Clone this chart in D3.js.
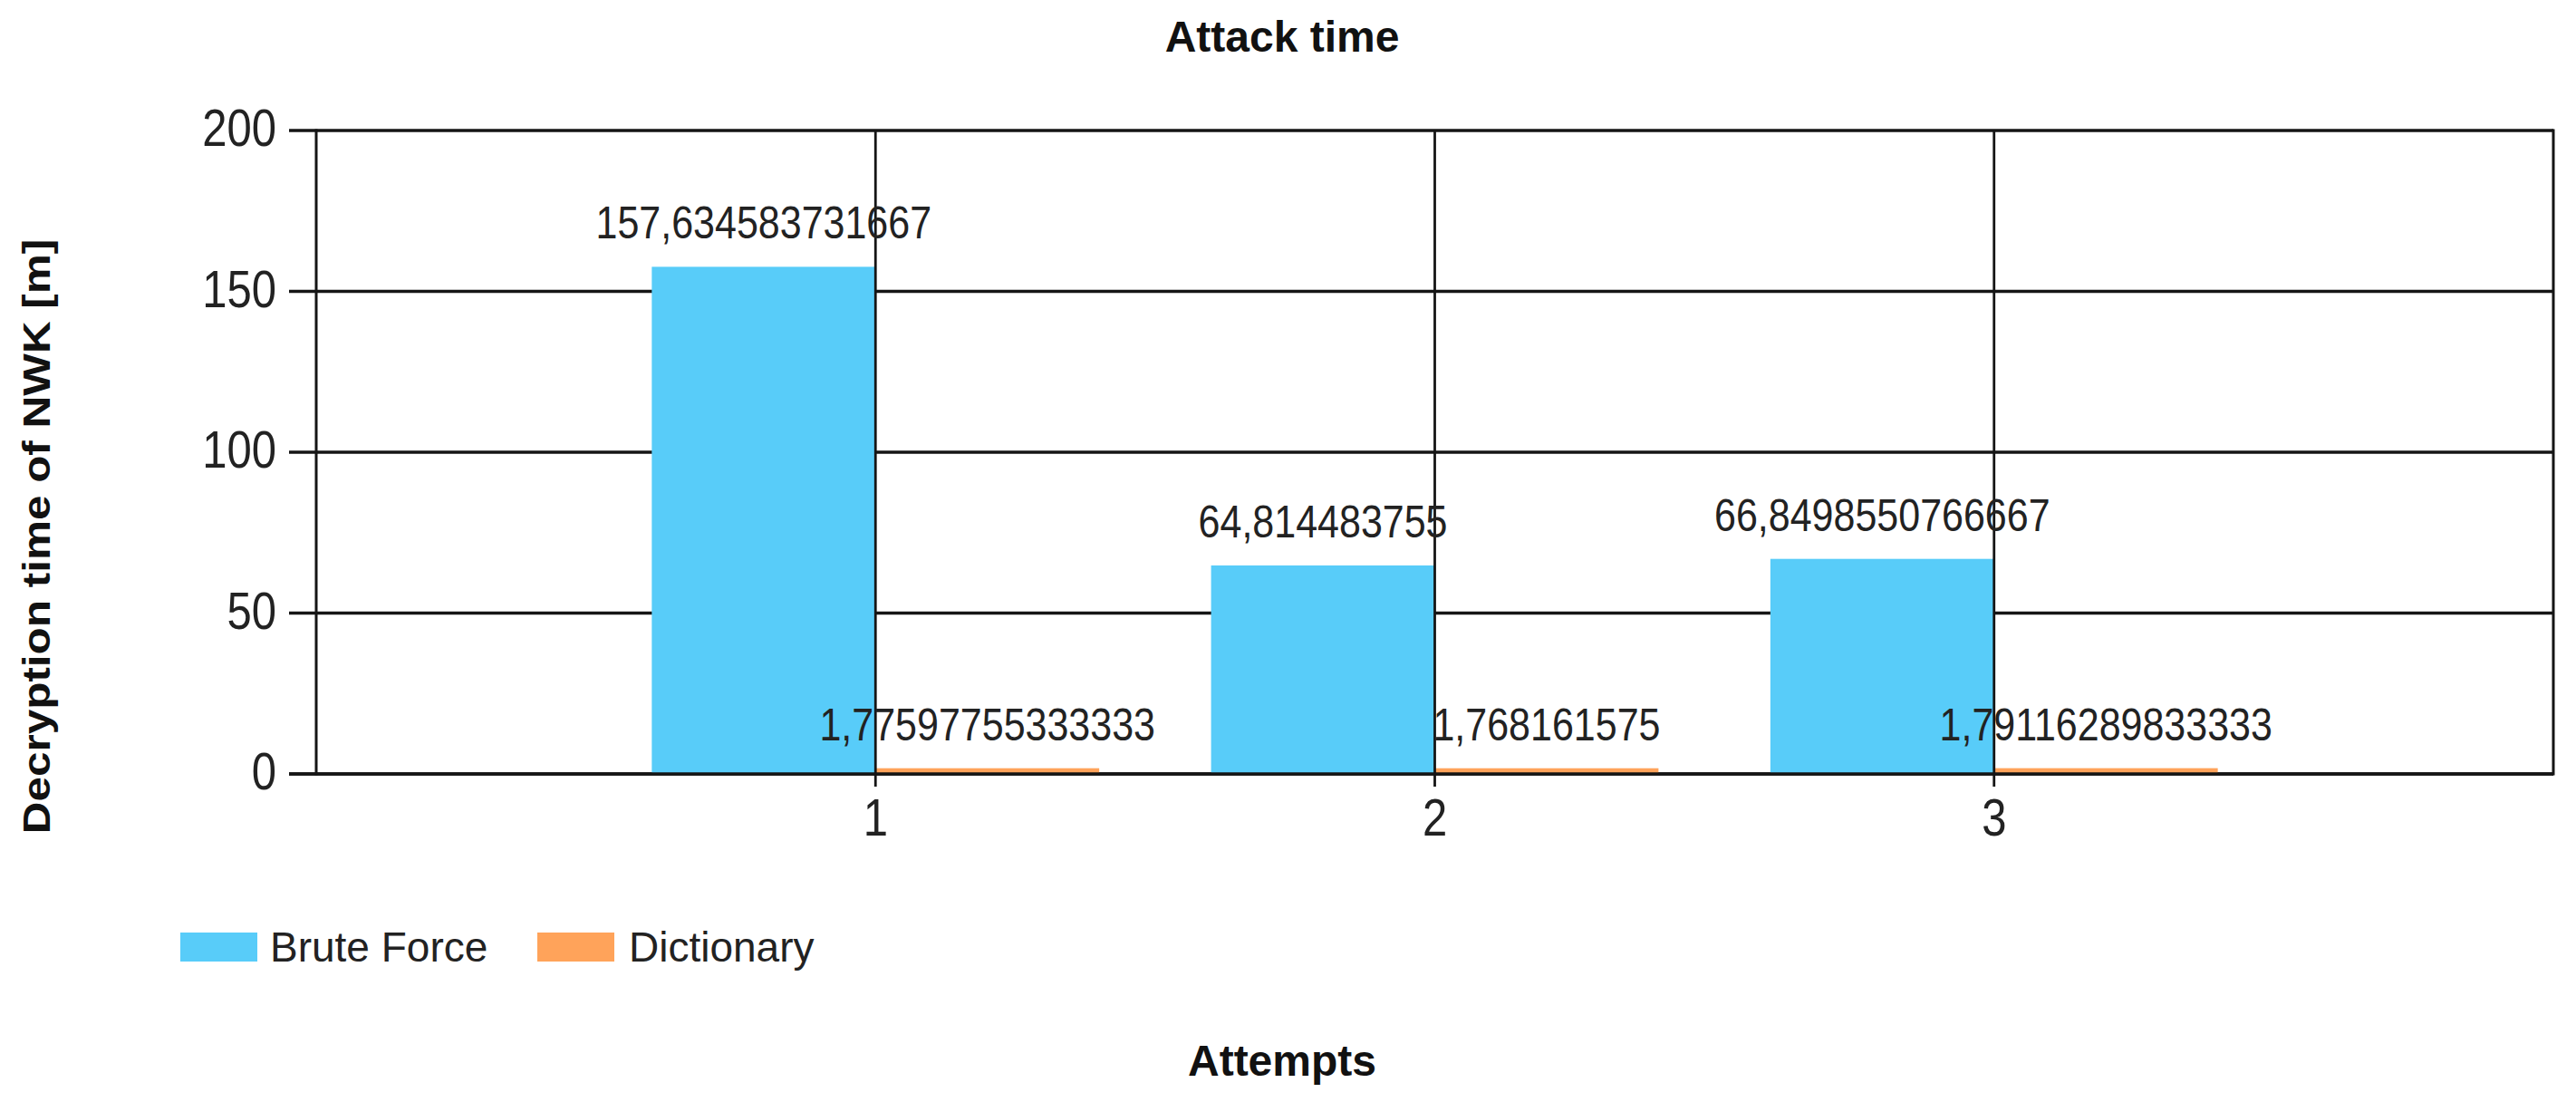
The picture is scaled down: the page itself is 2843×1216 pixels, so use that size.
<!DOCTYPE html>
<html><head><meta charset="utf-8">
<script src="https://cdn.jsdelivr.net/npm/d3@7"></script>
<style>body{margin:0;background:#fff;} svg{display:block;}</style>
</head><body>
<svg id="c" width="2843" height="1216"></svg>
<script>
const categories = [1, 2, 3];
const categoryLabels = ["1", "2", "3"];
const bruteForce = [157.634583731667, 64.814483755, 66.8498550766667];
const dictionary = [1.77597755333333, 1.768161575, 1.79116289833333];
const bruteForceLabels = ["157,634583731667", "64,814483755", "66,8498550766667"];
const dictionaryLabels = ["1,77597755333333", "1,768161575", "1,79116289833333"];
const yTicks = [0, 50, 100, 150, 200];
const seriesNames = ["Brute Force", "Dictionary"];
const seriesColors = ["#58CCF9", "#FFA35A"];
const chartTitle = "Attack time";
const xTitle = "Attempts";
const yTitle = "Decryption time of NWK [m]";

const FONT = "'Liberation Sans', Arial, sans-serif";
const STRETCH = 1.17;
const svg = d3.select("#c");
svg.append("rect").attr("width", 2843).attr("height", 1216).attr("fill", "#fff");

const x = d3.scaleLinear().domain([0, 4]).range([349, 2818]);
const y = d3.scaleLinear().domain([0, 200]).range([854, 144]);
const barW = 0.4;
const lineColor = "#151515";

// horizontal gridlines + left ticks
svg.append("g").selectAll("line").data(yTicks).join("line")
  .attr("x1", x(0) - 30).attr("x2", x(4))
  .attr("y1", d => y(d)).attr("y2", d => y(d))
  .attr("stroke", lineColor).attr("stroke-width", 3.5);

// bars
const series = [bruteForce, dictionary];
series.forEach((vals, si) => {
  svg.append("g").selectAll("rect").data(vals).join("rect")
    .attr("x", (d, i) => si === 0 ? x(categories[i] - barW) : x(categories[i]))
    .attr("width", x(barW) - x(0))
    .attr("y", d => y(d))
    .attr("height", d => y(0) - y(d))
    .attr("fill", seriesColors[si]);
});

// vertical lines: plot borders
svg.append("g").selectAll("line").data([0, 4]).join("line")
  .attr("x1", d => x(d)).attr("x2", d => x(d))
  .attr("y1", y(200) - 1.5).attr("y2", y(0) + 1.5)
  .attr("stroke", lineColor).attr("stroke-width", 3);
// category gridlines with tick below axis
svg.append("g").selectAll("line").data(categories).join("line")
  .attr("x1", d => x(d)).attr("x2", d => x(d))
  .attr("y1", y(200)).attr("y2", y(0) + 14)
  .attr("stroke", lineColor).attr("stroke-width", 2.8);
// baseline
svg.append("line").attr("x1", x(0) - 30).attr("x2", x(4))
  .attr("y1", y(0)).attr("y2", y(0))
  .attr("stroke", lineColor).attr("stroke-width", 3.5);

function stretchedText(parent, tx, ty, txt, size, anchor, weight) {
  const g = parent.append("g").attr("transform", `translate(${tx},${ty}) scale(1,${STRETCH})`);
  g.append("text").attr("x", 0).attr("y", 0)
    .attr("text-anchor", anchor).attr("font-family", FONT)
    .attr("font-size", size).attr("font-weight", weight || "normal")
    .attr("fill", "#222").text(txt);
  return g;
}

// y tick labels
yTicks.forEach(t => stretchedText(svg, 305, y(t) + 17, String(t), 49, "end"));
// x tick labels
categories.forEach((c, i) => stretchedText(svg, x(c), 922, categoryLabels[i], 49, "middle"));

// data labels
bruteForce.forEach((v, i) => stretchedText(svg, x(categories[i] - barW / 2), y(v) - 31, bruteForceLabels[i], 43, "middle"));
dictionary.forEach((v, i) => stretchedText(svg, x(categories[i] + barW / 2), y(v) - 31, dictionaryLabels[i], 43, "middle"));

// titles
svg.append("text").attr("x", 1415).attr("y", 57).attr("text-anchor", "middle")
  .attr("font-family", FONT).attr("font-weight", "bold").attr("font-size", 48)
  .attr("fill", "#111").text(chartTitle);
svg.append("text").attr("x", 1415).attr("y", 1187).attr("text-anchor", "middle")
  .attr("font-family", FONT).attr("font-weight", "bold").attr("font-size", 48)
  .attr("fill", "#111").text(xTitle);
svg.append("g").attr("transform", "translate(55,592) rotate(-90) scale(1.15,1)")
  .append("text").attr("text-anchor", "middle")
  .attr("font-family", FONT).attr("font-weight", "bold").attr("font-size", 43)
  .attr("fill", "#111").text(yTitle);

// legend
const legendX = [199, 593];
const legendTextX = [298, 694];
seriesNames.forEach((n, i) => {
  svg.append("rect").attr("x", legendX[i]).attr("y", 1029).attr("width", 85).attr("height", 32)
    .attr("fill", seriesColors[i]);
  svg.append("text").attr("x", legendTextX[i]).attr("y", 1061)
    .attr("font-family", FONT).attr("font-size", 46).attr("fill", "#222").text(n);
});
</script>
</body></html>
